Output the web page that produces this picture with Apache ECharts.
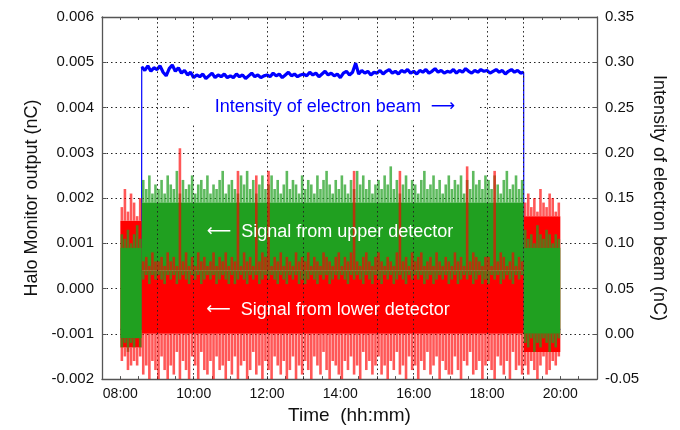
<!DOCTYPE html>
<html><head><meta charset="utf-8">
<script src="https://cdn.jsdelivr.net/npm/echarts@6/dist/echarts.min.js"></script>
<style>html,body{margin:0;padding:0;background:#fff}#c{width:680px;height:430px}</style>
</head><body><div id="c"></div>
<script>
// ---------------- DATA ----------------
// x axis tick labels (time of day)
const xTickLabels = ['08:00','10:00','12:00','14:00','16:00','18:00','20:00'];
// signals sampled in 5-minute bins from 08:00 to 20:00 (144 bins), values in 1e-4 nC
const signalStart = '08:00';
const signalBinMinutes = 5;
// beam phases: off / on / off
const phaseBounds = ['08:00','08:35','19:00','20:00'];
const greenCoreLo = [-11, 4, -10];
const greenCoreHi = [9, 19, 9];
const redCoreLo   = [-13, -10, -14];
const redCoreHi   = [15, 4, 16];
// upper detector (green) spike extremes per bin
const greenUp = [
  12,11,13,10,12,14,11,24,22,25,21,23,
  22,24,21,25,23,22,26,21,24,22,23,25,
  21,23,24,22,25,21,23,22,24,26,21,23,
  24,22,21,25,23,26,22,24,21,23,25,22,
  23,25,22,24,21,23,26,22,24,23,21,25,
  22,24,23,21,25,22,24,26,23,21,24,22,
  25,23,21,24,22,26,23,25,22,24,21,23,
  24,22,25,23,27,22,24,21,23,25,22,24,
  23,21,24,26,22,23,25,22,24,21,23,25,
  22,24,23,25,21,24,22,26,23,24,22,25,
  24,22,25,23,21,24,26,22,23,25,22,24,
  13,11,12,10,14,12,11,13,12,10,12,11];
const greenDown = [
  -13,-12,-14,-12,-13,-11,-13,2,3,1,3,2,
  3,2,1,3,2,3,1,2,3,2,1,3,
  2,3,1,2,3,2,3,1,2,3,2,1,
  3,1,2,3,2,1,3,2,3,1,2,3,
  2,3,2,1,3,2,1,3,2,3,1,2,
  1,2,3,2,1,3,2,3,1,2,3,2,
  3,2,1,3,2,3,2,1,3,2,1,3,
  2,1,3,2,3,1,2,3,2,1,3,2,
  3,2,3,1,2,3,1,2,3,2,3,1,
  2,3,1,2,3,2,3,1,2,3,1,2,
  1,3,2,3,1,2,3,2,1,3,2,3,
  -12,-13,-11,-14,-12,-13,-11,-12,-14,-12,-13,-11];
// lower detector (red) spike extremes per bin
const redUp = [
  18,22,17,21,19,16,20,6,7,5,8,6,
  6,7,5,8,6,7,5,31,6,8,5,7,
  5,8,6,7,5,6,8,5,7,6,8,5,
  7,6,26,5,8,6,7,5,25,6,8,7,
  26,5,7,6,8,5,7,6,5,8,6,7,
  6,8,5,7,6,5,8,7,6,5,7,8,
  5,7,6,8,26,6,5,7,8,6,5,7,
  8,6,5,7,6,5,8,26,6,7,5,8,
  6,7,8,5,6,7,5,8,6,5,7,6,
  5,8,6,7,5,27,6,8,7,6,5,7,
  7,5,26,6,8,7,5,6,8,5,7,6,
  19,21,18,20,17,22,19,18,21,20,17,19];
const redDown = [
  -16,-15,-18,-17,-16,-17,-15,-19,-17,-20,-16,-18,
  -20,-15,-18,-20,-17,-19,-14,-20,-16,-18,-20,-15,
  -17,-20,-14,-18,-19,-16,-20,-15,-18,-17,-20,-16,
  -19,-15,-20,-17,-16,-20,-18,-14,-19,-17,-20,-16,
  -18,-20,-15,-17,-19,-16,-20,-18,-15,-20,-17,-19,
  -16,-18,-20,-15,-17,-19,-14,-18,-20,-16,-17,-19,
  -20,-16,-18,-15,-19,-17,-20,-14,-18,-16,-19,-17,
  -15,-19,-17,-20,-16,-18,-14,-19,-17,-20,-15,-18,
  -17,-20,-16,-18,-14,-19,-17,-15,-20,-16,-18,-19,
  -19,-15,-18,-20,-16,-17,-14,-19,-18,-16,-20,-17,
  -16,-18,-20,-15,-17,-19,-16,-20,-14,-18,-17,-19,
  -17,-19,-16,-18,-20,-17,-15,-19,-18,-16,-17,-15];
// electron beam intensity (1e-3 nC), every 5 min from 08:35 to 19:00
const beamOn = '08:35', beamOff = '19:00', beamSignalEnd = '20:00';
const beamOffLevel = 5;
const beamIntensity = [
  295,291,296,290,294,
  292,296,289,285,293,297,290,294,288,291,286,289,
  283,286,284,287,282,285,288,283,286,284,287,283,
  285,283,287,284,286,282,285,288,284,286,283,285,
  286,284,288,285,287,283,286,289,285,287,284,286,
  287,285,289,286,288,284,287,290,286,288,285,287,
  283,288,290,286,289,299,287,291,288,290,286,289,
  288,291,287,290,292,288,290,287,291,289,292,288,
  290,287,291,289,292,288,290,293,289,291,288,290,
  289,292,288,291,289,293,290,288,291,289,292,290,
  291,288,290,292,289,291,287,290,292,289,291,288,
  289];
// dotted vertical grid lines
const vGridTimes = ['09:00','10:00','12:00','13:00','15:00','16:00','18:00','19:00'];

// ---------------- BUILD ----------------
const hr = s => { const [h,m] = s.split(':').map(Number); return h + m/60; };
const U = 1e-4;
const t0 = hr(signalStart), dt = signalBinMinutes/60;
const pb = phaseBounds.map(hr);
function phaseOf(t){ for (let p=0;p<3;p++) if (t>=pb[p] && t<pb[p+1]) return p; return 2; }

const greenCore = [0,1,2].map(p => [pb[p], pb[p+1], greenCoreLo[p]*U, greenCoreHi[p]*U]);
const redCore   = [0,1,2].map(p => [pb[p], pb[p+1], redCoreLo[p]*U, redCoreHi[p]*U]);
const greenSpk = [], redSpk = [];
for (let i=0;i<greenUp.length;i++){
  const tc = t0 + (i+0.5)*dt, p = phaseOf(tc);
  greenSpk.push([tc, greenCoreHi[p]*U, greenUp[i]*U]);
  greenSpk.push([tc, greenCoreLo[p]*U, greenDown[i]*U]);
  redSpk.push([tc, redCoreHi[p]*U, redUp[i]*U]);
  redSpk.push([tc, redCoreLo[p]*U, redDown[i]*U]);
}
const bOn = hr(beamOn), bOff = hr(beamOff);
const blueOn = beamIntensity.map((v,k)=> [bOn + k*dt, v/1000]);
const blueAll = [[t0, beamOffLevel/1000],[bOn-0.004, beamOffLevel/1000]]
  .concat(blueOn, [[bOff+0.004, beamOffLevel/1000],[hr(beamSignalEnd), beamOffLevel/1000]]);

function coreItem(color){ return function(params, api){
  const p0 = api.coord([api.value(0), api.value(3)]), p1 = api.coord([api.value(1), api.value(2)]);
  return {type:'rect', shape:{x:p0[0], y:p0[1], width:p1[0]-p0[0], height:p1[1]-p0[1]}, style:{fill:color}};
};}
function spikeItem(color, w){ return function(params, api){
  const t = api.value(0);
  const pa = api.coord([t, api.value(1)]), pbb = api.coord([t, api.value(2)]);
  return {type:'rect', shape:{x:pa[0]-w/2, y:Math.min(pa[1],pbb[1]), width:w, height:Math.abs(pbb[1]-pa[1])}, style:{fill:color}};
};}

const FONT = 'Liberation Sans, Arial, sans-serif';
const ARROWFONT = 'DejaVu Sans, sans-serif';
const GREEN = '#20a020', RED = '#ff0000', BLUE = '#0000ff';
const axisCol = '#555';
const pad = v => (v<10?'0':'') + v + ':00';

const chart = echarts.init(document.getElementById('c'), null, {renderer:'canvas'});
chart.setOption({
  animation:false,
  backgroundColor:'#fff',
  grid:{left:102, right:83, top:17, bottom:50},
  xAxis:[{
    type:'value', min:7.5, max:21, interval:0.5, position:'bottom',
    name:'Time  (hh:mm)', nameLocation:'middle', nameGap:26,
    nameTextStyle:{fontFamily:FONT, fontSize:19, color:'#111'},
    axisLine:{show:true, onZero:false, lineStyle:{color:axisCol, width:1.3}},
    axisTick:{show:true, inside:true, length:3, lineStyle:{color:axisCol}},
    axisLabel:{fontFamily:FONT, fontSize:14, color:'#111', margin:8,
      formatter: v => { const l = pad(Math.round(v)); return (Math.abs(v-Math.round(v))<1e-6 && xTickLabels.includes(l)) ? l : ''; }},
    splitLine:{show:false}
  },{
    type:'value', min:7.5, max:21, interval:0.5, position:'top',
    axisLine:{show:true, onZero:false, lineStyle:{color:axisCol, width:1.3}},
    axisTick:{show:true, inside:true, length:3, lineStyle:{color:axisCol}},
    axisLabel:{show:false}, splitLine:{show:false}
  }],
  yAxis:[{
    type:'value', min:-0.002, max:0.006, interval:0.001, position:'left',
    name:'Halo Monitor output (nC)', nameLocation:'middle', nameGap:58, nameRotate:90,
    nameTextStyle:{fontFamily:FONT, fontSize:18, color:'#111'},
    axisLine:{show:true, onZero:false, lineStyle:{color:axisCol, width:1.3}},
    axisTick:{show:true, inside:true, length:4, lineStyle:{color:axisCol}},
    axisLabel:{fontFamily:FONT, fontSize:15, color:'#111', margin:8, formatter: v => v.toFixed(3).replace('-0.000','0.000')},
    splitLine:{show:true, lineStyle:{color:'#222', type:[1.5,3], width:1}}
  },{
    type:'value', min:-0.05, max:0.35, interval:0.05, position:'right',
    name:'Intensity of electron beam (nC)', nameLocation:'middle', nameGap:50, nameRotate:-90,
    nameTextStyle:{fontFamily:FONT, fontSize:18, color:'#111'},
    axisLine:{show:true, onZero:false, lineStyle:{color:axisCol, width:1.3}},
    axisTick:{show:true, inside:true, length:4, lineStyle:{color:axisCol}},
    axisLabel:{fontFamily:FONT, fontSize:15, color:'#111', margin:8, formatter: v => v.toFixed(2)},
    splitLine:{show:false}
  }],
  series:[
    {type:'line', name:'beamThin', xAxisIndex:0, yAxisIndex:1, data:blueAll, showSymbol:false, z:1,
     lineStyle:{color:BLUE, width:1.2}, clip:true,
     markLine:{silent:true, symbol:['none','none'], label:{show:false},
       lineStyle:{color:'#222', type:[1.5,3], width:1},
       data: vGridTimes.map(s=>({xAxis:hr(s)}))}},
    {type:'line', name:'beam', xAxisIndex:0, yAxisIndex:1, data:blueOn, showSymbol:false, z:1,
     lineStyle:{color:BLUE, width:3.2}, clip:true},
    {type:'custom', name:'redCore', xAxisIndex:0, yAxisIndex:0, z:2, clip:true, data:redCore,
     encode:{x:[0,1], y:[2,3]}, renderItem:coreItem(RED)},
    {type:'custom', name:'greenCore', xAxisIndex:0, yAxisIndex:0, z:3, clip:true, data:greenCore,
     encode:{x:[0,1], y:[2,3]}, renderItem:coreItem(GREEN)},
    {type:'custom', name:'greenSpk', xAxisIndex:0, yAxisIndex:0, z:4, clip:true, data:greenSpk,
     encode:{x:0, y:[1,2]}, renderItem:spikeItem('rgba(32,160,32,0.72)', 2.6)},
    {type:'custom', name:'redSpk', xAxisIndex:0, yAxisIndex:0, z:5, clip:true, data:redSpk,
     encode:{x:0, y:[1,2]}, renderItem:spikeItem('rgba(255,0,0,0.66)', 2.6)}
  ],
  graphic:[
    {type:'text', x:335, y:107, z:100,
     style:{text:'{t|Intensity of electron beam}   {a|\u27F6}', fill:BLUE,
       rich:{t:{font:'18px '+FONT, fill:BLUE}, a:{font:'17px '+ARROWFONT, fill:BLUE}},
       align:'center', verticalAlign:'middle', backgroundColor:'#fff', padding:[8,24]}},
    {type:'text', x:330, y:232, z:100,
     style:{text:'{a|\u27F5}   {t|Signal from upper detector}', fill:'#fff',
       rich:{t:{font:'18px '+FONT, fill:'#fff'}, a:{font:'17px '+ARROWFONT, fill:'#fff'}},
       align:'center', verticalAlign:'middle'}},
    {type:'text', x:328, y:310, z:100,
     style:{text:'{a|\u27F5}   {t|Signal from lower detector}', fill:'#fff',
       rich:{t:{font:'18px '+FONT, fill:'#fff'}, a:{font:'17px '+ARROWFONT, fill:'#fff'}},
       align:'center', verticalAlign:'middle'}}
  ]
});
</script></body></html>
